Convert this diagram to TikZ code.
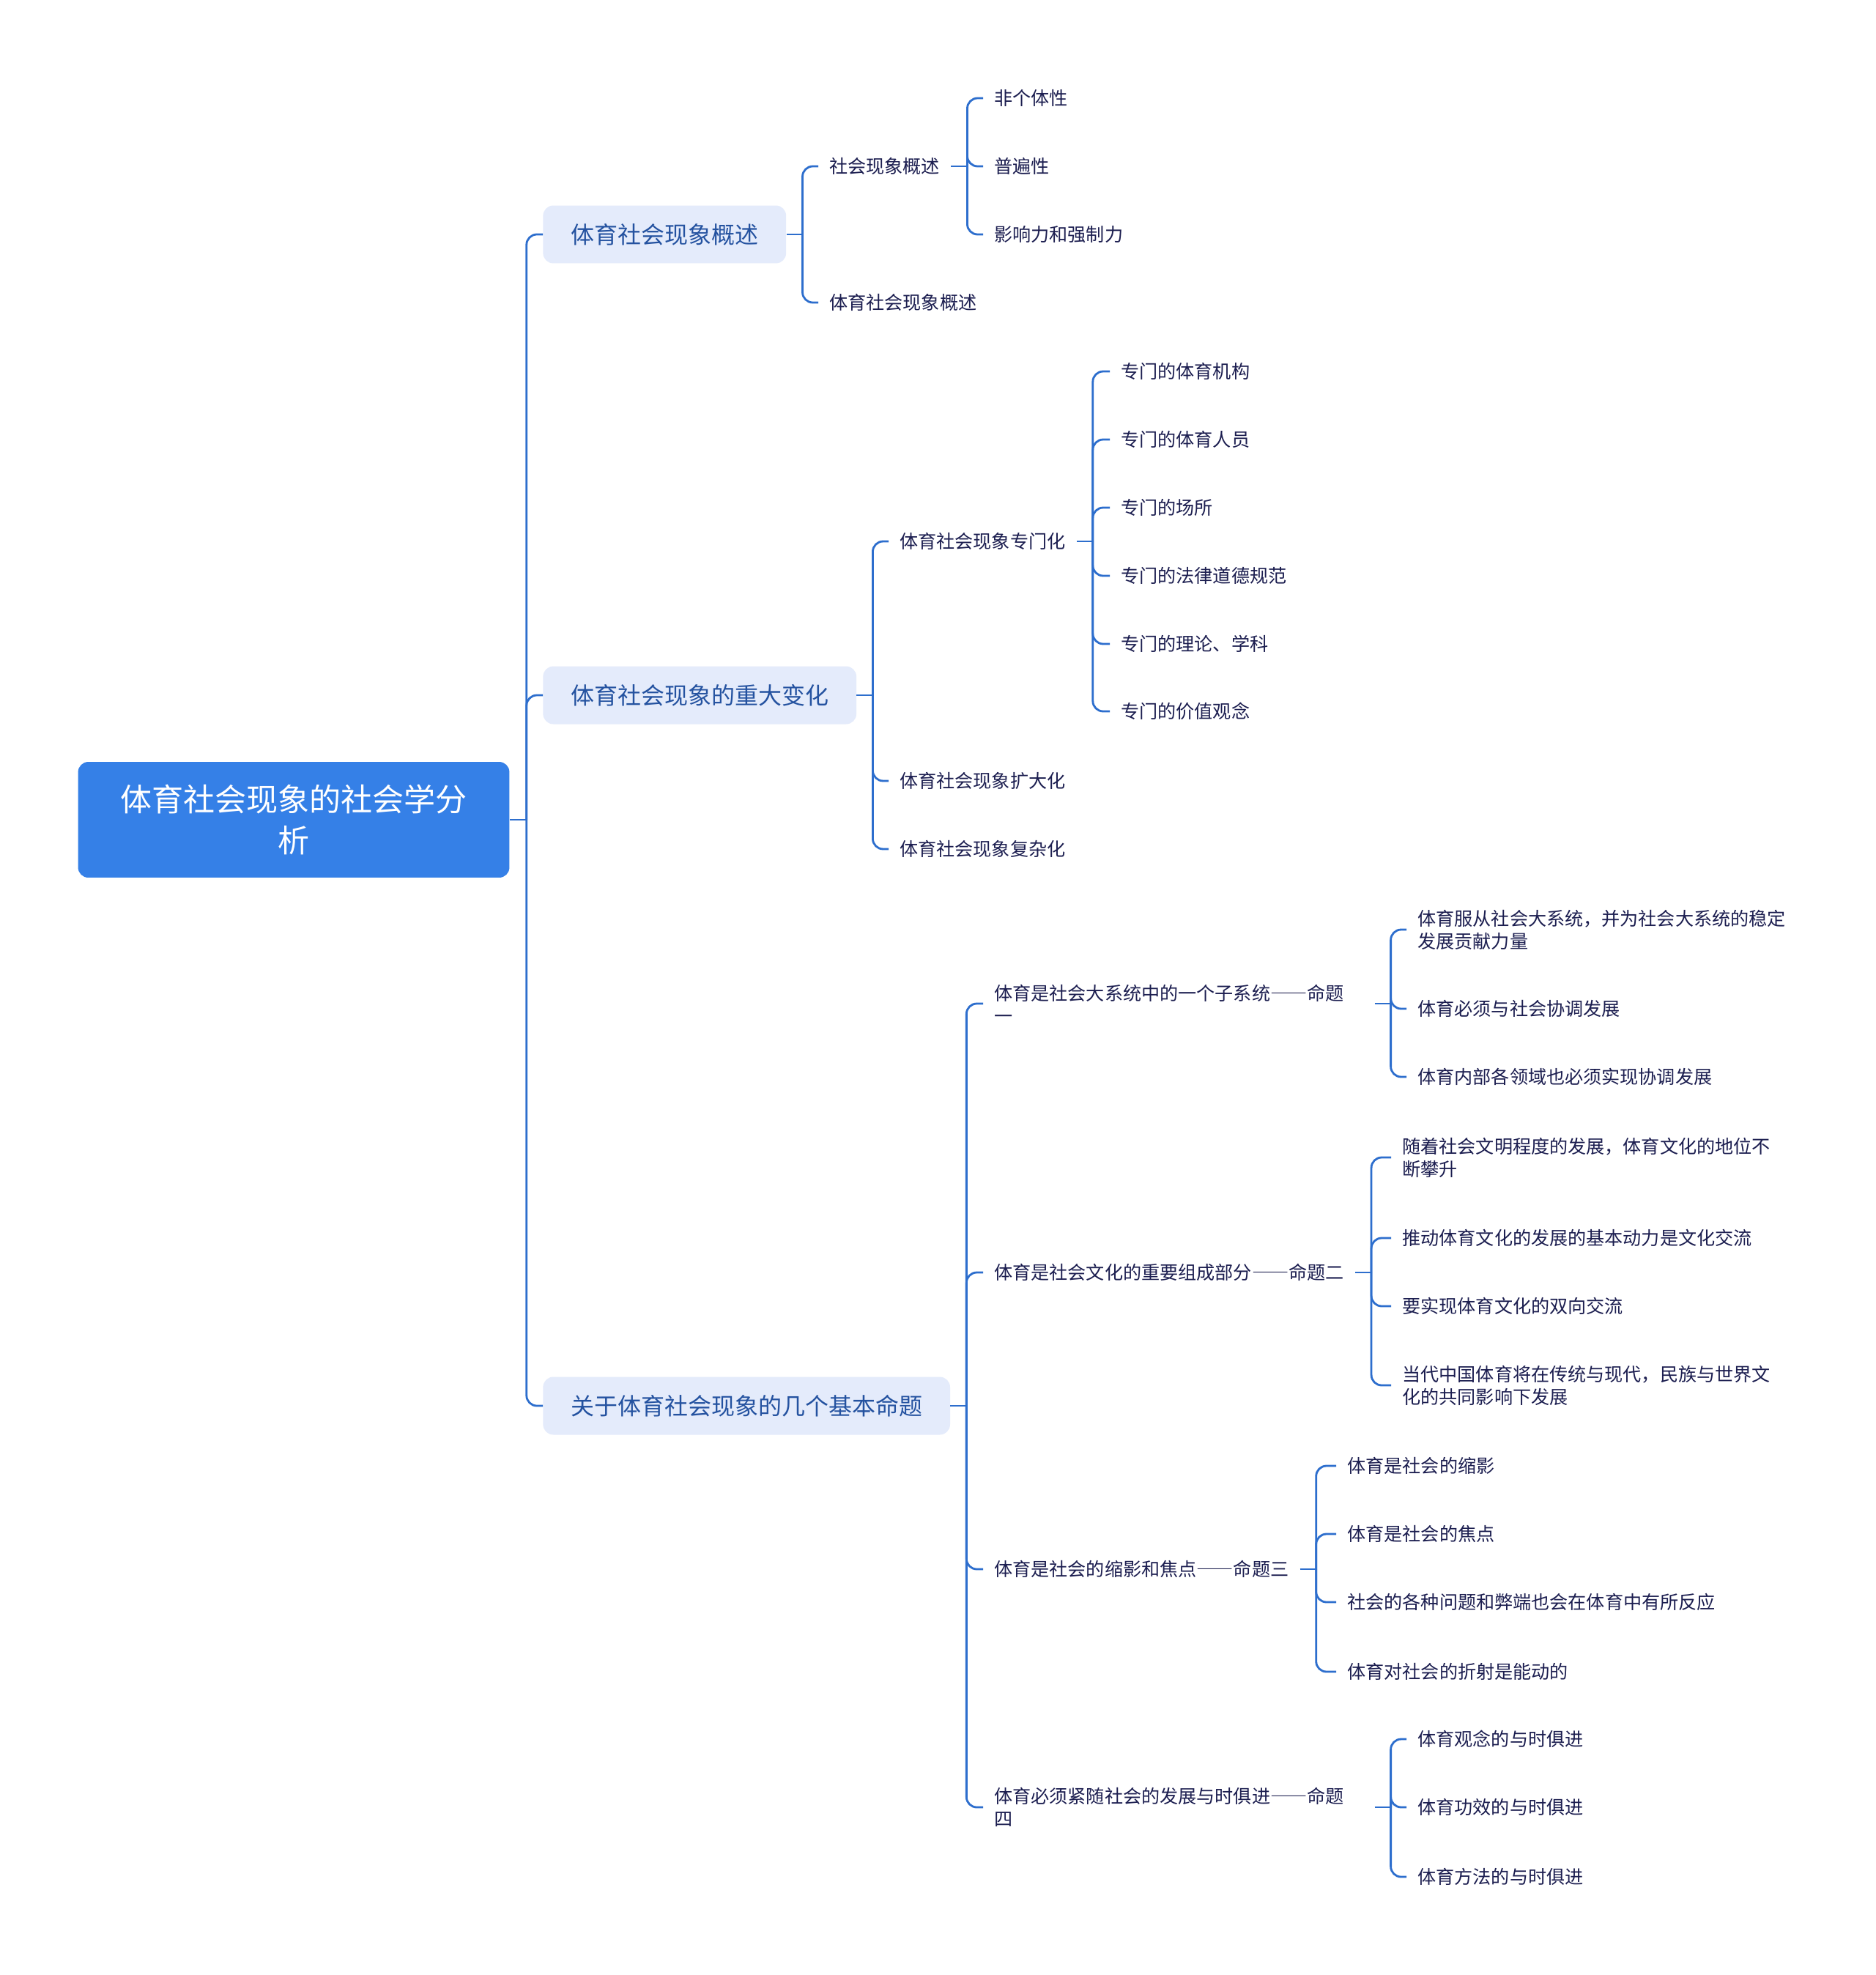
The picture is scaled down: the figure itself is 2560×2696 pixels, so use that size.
\documentclass[tikz,border=0pt]{standalone}
\usepackage{fontspec}
\setmainfont{Noto Sans CJK SC}
\newfontfamily\fwfont[CharacterWidth=Full]{Noto Sans CJK SC}
\usepackage{tikz}
\usetikzlibrary{positioning}
\definecolor{RootBlue}{RGB}{53,128,231}
\definecolor{PaleBlue}{RGB}{228,235,251}
\definecolor{LinkBlue}{RGB}{45,110,205}
\definecolor{TopicText}{RGB}{36,82,160}
\definecolor{LeafText}{RGB}{28,30,80}
\newcommand{\ldash}{{\fwfont ——}}

\tikzset{
  rootbox/.style={fill=RootBlue, text=white, rounded corners=8pt,
    font=\fontsize{24.5}{32}\selectfont, align=center,
    minimum width=11.78cm, minimum height=3.16cm, inner sep=0pt},
  topicbox/.style={fill=PaleBlue, text=TopicText, rounded corners=8pt,
    font=\fontsize{18.2}{22}\selectfont, anchor=west,
    inner xsep=0.76cm, inner ysep=0pt, minimum height=1.58cm},
  leaf/.style={text=LeafText, font=\fontsize{14.3}{17.6}\selectfont,
    anchor=west, inner xsep=0.3cm, inner ysep=2pt, align=left},
  link/.style={draw=LinkBlue, line width=1.6pt, rounded corners=8pt},
}

\begin{document}
\begin{tikzpicture}[x=0.02cm, y=-0.02cm]
\def\gap{22}
\fill[white] (0,0) rectangle (2560,2696);
\useasboundingbox (0,0) rectangle (2560,2696);

% ---- root and main branches ----
\node[rootbox] (root) at (401,1119) {体育社会现象的社会学分\\析};
\node[topicbox] (ta) at (741,320)  {体育社会现象概述};
\node[topicbox] (tb) at (741,949)  {体育社会现象的重大变化};
\node[topicbox] (tc) at (741,1919) {关于体育社会现象的几个基本命题};
\draw[link] (root.east) -- ++(23,0) coordinate (jr);
\foreach \t in {ta,tb,tc}
  \draw[link] (jr) |- (\t.west);

% ---- 概述 ----
\node[leaf] (a1) at (1117,227) {社会现象概述};
\node[leaf] (a2) at (1117,413) {体育社会现象概述};
\draw[link] (ta.east) -- ++(\gap,0) coordinate (ja);
\foreach \c in {a1,a2}
  \draw[link] (ja) |- (\c.west);

\foreach \n/\y/\t in {a11/134/非个体性, a12/227/普遍性, a13/320/影响力和强制力}
  \node[leaf] (\n) at (1342,\y) {\t};
\draw[link] (a1.east) -- ++(\gap,0) coordinate (ja1);
\foreach \c in {a11,a12,a13}
  \draw[link] (ja1) |- (\c.west);

% ---- 重大变化 ----
\foreach \n/\y/\t in {b1/739/体育社会现象专门化, b2/1066/体育社会现象扩大化,
                      b3/1159/体育社会现象复杂化}
  \node[leaf] (\n) at (1213,\y) {\t};
\draw[link] (tb.east) -- ++(\gap,0) coordinate (jb);
\foreach \c in {b1,b2,b3}
  \draw[link] (jb) |- (\c.west);

\foreach \n/\y/\t in {b11/507/专门的体育机构, b12/600/专门的体育人员,
                      b13/693/专门的场所, b14/786/专门的法律道德规范,
                      b15/879/专门的理论、学科, b16/971/专门的价值观念}
  \node[leaf] (\n) at (1515,\y) {\t};
\draw[link] (b1.east) -- ++(\gap,0) coordinate (jb1);
\foreach \c in {b11,b12,b13,b14,b15,b16}
  \draw[link] (jb1) |- (\c.west);

% ---- 基本命题 ----
\node[leaf, text width=10.08cm] (c1) at (1342,1370) {体育是社会大系统中的一个子系统\ldash 命题\\一};
\node[leaf] (c2) at (1342,1737) {体育是社会文化的重要组成部分\ldash 命题二};
\node[leaf] (c3) at (1342,2142) {体育是社会的缩影和焦点\ldash 命题三};
\node[leaf, text width=10.08cm] (c4) at (1342,2467) {体育必须紧随社会的发展与时俱进\ldash 命题\\四};
\draw[link] (tc.east) -- ++(\gap,0) coordinate (jc);
\foreach \c in {c1,c2,c3,c4}
  \draw[link] (jc) |- (\c.west);

% 命题一
\node[leaf] (c11) at (1920,1269) {体育服从社会大系统，并为社会大系统的稳定\\发展贡献力量};
\node[leaf] (c12) at (1920,1377) {体育必须与社会协调发展};
\node[leaf] (c13) at (1920,1470) {体育内部各领域也必须实现协调发展};
\draw[link] (c1.east) -- ++(\gap,0) coordinate (jc1);
\foreach \c in {c11,c12,c13}
  \draw[link] (jc1) |- (\c.west);

% 命题二
\node[leaf] (c21) at (1899,1580) {随着社会文明程度的发展，体育文化的地位不\\断攀升};
\node[leaf] (c22) at (1899,1690) {推动体育文化的发展的基本动力是文化交流};
\node[leaf] (c23) at (1899,1783) {要实现体育文化的双向交流};
\node[leaf] (c24) at (1899,1891) {当代中国体育将在传统与现代，民族与世界文\\化的共同影响下发展};
\draw[link] (c2.east) -- ++(\gap,0) coordinate (jc2);
\foreach \c in {c21,c22,c23,c24}
  \draw[link] (jc2) |- (\c.west);

% 命题三
\foreach \n/\y/\t in {c31/2001/体育是社会的缩影, c32/2094/体育是社会的焦点,
                      c33/2187/社会的各种问题和弊端也会在体育中有所反应,
                      c34/2282/体育对社会的折射是能动的}
  \node[leaf] (\n) at (1824,\y) {\t};
\draw[link] (c3.east) -- ++(\gap,0) coordinate (jc3);
\foreach \c in {c31,c32,c33,c34}
  \draw[link] (jc3) |- (\c.west);

% 命题四
\foreach \n/\y/\t in {c41/2374/体育观念的与时俱进, c42/2467/体育功效的与时俱进,
                      c43/2562/体育方法的与时俱进}
  \node[leaf] (\n) at (1920,\y) {\t};
\draw[link] (c4.east) -- ++(\gap,0) coordinate (jc4);
\foreach \c in {c41,c42,c43}
  \draw[link] (jc4) |- (\c.west);

\end{tikzpicture}
\end{document}
